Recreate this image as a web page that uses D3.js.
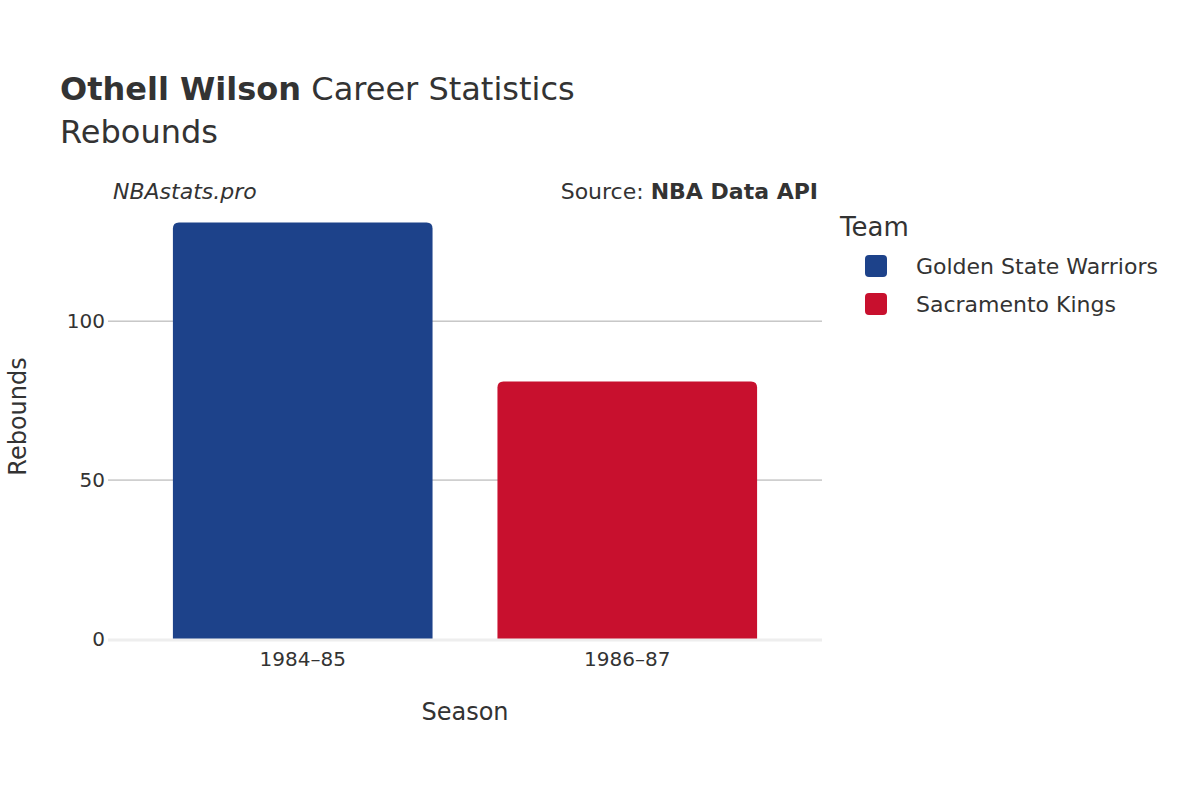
<!DOCTYPE html>
<html lang="en">
<head>
<meta charset="UTF-8">
<title>Othell Wilson Rebounds</title>
<script src="https://d3js.org/d3.v7.min.js"></script>
<style>body{margin:0;background:#fff;} text{font-family:"DejaVu Sans",sans-serif;fill:#333;}</style>
</head>
<body>
<script>
var seasons = ["1984\u201385", "1986\u201387"];
var teams = ["Golden State Warriors", "Sacramento Kings"];
var rebounds = [131, 81];
var teamColors = ["#1d428a", "#c8102e"];
var yTicks = [0, 50, 100];

var width = 1200, height = 800;
var plotLeft = 108, plotRight = 822, plotTop = 194, plotBottom = 639;

var svg = d3.select("body").append("svg")
    .attr("width", width).attr("height", height);

var x = d3.scaleBand().domain(seasons).range([plotLeft, plotRight]).padding(0.2);
var y = d3.scaleLinear().domain([0, 140]).range([plotBottom, plotTop]);
var color = d3.scaleOrdinal().domain(teams).range(teamColors);

// grid
svg.selectAll("line.grid").data(yTicks.filter(d => d > 0)).enter()
    .append("line").attr("class", "grid")
    .attr("x1", plotLeft).attr("x2", plotRight)
    .attr("y1", d => y(d)).attr("y2", d => y(d))
    .attr("stroke", "#aaa").attr("stroke-width", 1);

// bars
svg.selectAll("path.bar").data(seasons).enter()
    .append("path").attr("class", "bar")
    .attr("fill", (d, i) => color(teams[i]))
    .attr("d", function (d, i) {
        var x0 = x(d), w = x.bandwidth(), y0 = y(rebounds[i]), r = 6;
        return "M" + x0 + "," + plotBottom + "V" + (y0 + r) + "Q" + x0 + "," + y0 + " " + (x0 + r) + "," + y0 +
            "H" + (x0 + w - r) + "Q" + (x0 + w) + "," + y0 + " " + (x0 + w) + "," + (y0 + r) + "V" + plotBottom + "Z";
    });

// zero line
svg.append("line").attr("x1", plotLeft).attr("x2", plotRight)
    .attr("y1", plotBottom + 1).attr("y2", plotBottom + 1)
    .attr("stroke", "#eee").attr("stroke-width", 3);

// y axis labels
svg.selectAll("text.ytick").data(yTicks).enter()
    .append("text").attr("class", "ytick")
    .attr("x", plotLeft - 3).attr("y", d => y(d)).attr("dy", "0.35em")
    .attr("text-anchor", "end").style("font-size", "20px").text(d => d);

// x axis labels
svg.selectAll("text.xtick").data(seasons).enter()
    .append("text").attr("x", d => x(d) + x.bandwidth() / 2).attr("y", 666)
    .attr("text-anchor", "middle").style("font-size", "20px").text(d => d);

svg.append("text").attr("x", (plotLeft + plotRight) / 2).attr("y", 720)
    .attr("text-anchor", "middle").style("font-size", "24px").text("Season");
svg.append("text").attr("transform", "translate(26," + ((plotTop + plotBottom) / 2) + ") rotate(-90)")
    .attr("text-anchor", "middle").style("font-size", "24px").text("Rebounds");

// titles
var t = svg.append("text").attr("x", 60).attr("y", 100).style("font-size", "32px");
t.append("tspan").style("font-weight", "bold").text("Othell Wilson");
t.append("tspan").text(" Career Statistics");
svg.append("text").attr("x", 60).attr("y", 143).style("font-size", "32px").text("Rebounds");

svg.append("text").attr("x", 113).attr("y", 199).style("font-size", "22px")
    .style("font-style", "italic").text("NBAstats.pro");
var s = svg.append("text").attr("x", 818).attr("y", 199).attr("text-anchor", "end").style("font-size", "22px");
s.append("tspan").text("Source: ");
s.append("tspan").style("font-weight", "bold").text("NBA Data API");

// legend
svg.append("text").attr("x", 840).attr("y", 236).style("font-size", "26px").text("Team");
var lg = svg.selectAll("g.legend").data(teams).enter().append("g")
    .attr("transform", (d, i) => "translate(865," + (266 + i * 38) + ")");
lg.append("rect").attr("x", 0).attr("y", -11).attr("width", 22).attr("height", 22)
    .attr("rx", 4).attr("fill", d => color(d));
lg.append("text").attr("x", 51).attr("dy", "0.35em").style("font-size", "22px").text(d => d);
</script>
</body>
</html>
